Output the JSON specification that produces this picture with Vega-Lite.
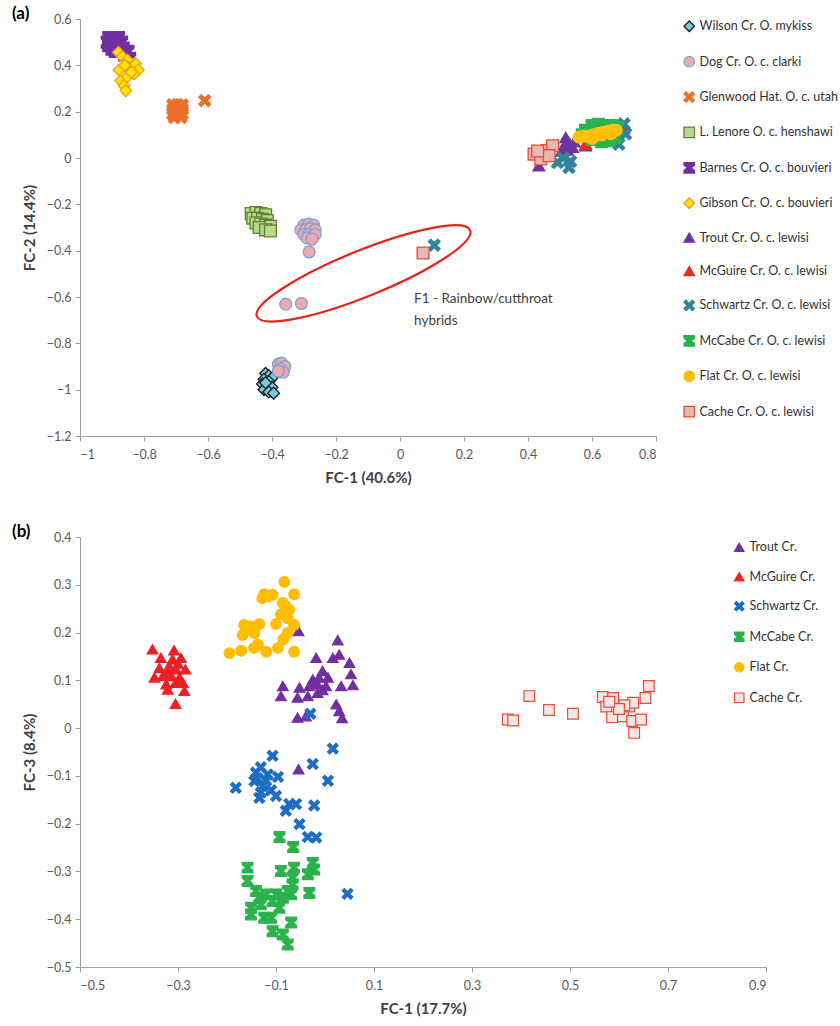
{
"$schema":"https://vega.github.io/schema/vega-lite/v6.json",
"background":"white",
"padding":{"left":12,"top":5,"right":0,"bottom":0},
"config":{"view":{"stroke":null},
"axis":{"grid":false,"domainColor":"#a0a0a0","tickColor":"#a0a0a0","tickSize":5,"labelFont":"Lato","labelFontSize":12.5,"labelColor":"#595959","titleFont":"Lato","titleFontSize":15,"titleFontWeight":"bold","titleColor":"#404040"},
"legend":{"labelFont":"Lato","labelColor":"#333333","labelLimit":220}},
"datasets":{
"a":[
{"site":"Wilson Cr. O. mykiss","fc1":-0.42,"fc2":-0.93},{"site":"Wilson Cr. O. mykiss","fc1":-0.41,"fc2":-0.94},{"site":"Wilson Cr. O. mykiss","fc1":-0.4,"fc2":-0.95},{"site":"Wilson Cr. O. mykiss","fc1":-0.425,"fc2":-0.955},{"site":"Wilson Cr. O. mykiss","fc1":-0.41,"fc2":-0.965},{"site":"Wilson Cr. O. mykiss","fc1":-0.43,"fc2":-0.975},{"site":"Wilson Cr. O. mykiss","fc1":-0.415,"fc2":-0.985},{"site":"Wilson Cr. O. mykiss","fc1":-0.4,"fc2":-0.99},{"site":"Wilson Cr. O. mykiss","fc1":-0.425,"fc2":-1.0},{"site":"Wilson Cr. O. mykiss","fc1":-0.41,"fc2":-1.01},{"site":"Wilson Cr. O. mykiss","fc1":-0.395,"fc2":-1.015},{"site":"Wilson Cr. O. mykiss","fc1":-0.42,"fc2":-0.97},
{"site":"Dog Cr. O. c. clarki","fc1":-0.3,"fc2":-0.29},{"site":"Dog Cr. O. c. clarki","fc1":-0.285,"fc2":-0.285},{"site":"Dog Cr. O. c. clarki","fc1":-0.27,"fc2":-0.29},{"site":"Dog Cr. O. c. clarki","fc1":-0.31,"fc2":-0.31},{"site":"Dog Cr. O. c. clarki","fc1":-0.295,"fc2":-0.31},{"site":"Dog Cr. O. c. clarki","fc1":-0.28,"fc2":-0.305},{"site":"Dog Cr. O. c. clarki","fc1":-0.265,"fc2":-0.31},{"site":"Dog Cr. O. c. clarki","fc1":-0.3,"fc2":-0.33},{"site":"Dog Cr. O. c. clarki","fc1":-0.285,"fc2":-0.33},{"site":"Dog Cr. O. c. clarki","fc1":-0.265,"fc2":-0.33},{"site":"Dog Cr. O. c. clarki","fc1":-0.29,"fc2":-0.345},{"site":"Dog Cr. O. c. clarki","fc1":-0.275,"fc2":-0.35},{"site":"Dog Cr. O. c. clarki","fc1":-0.284,"fc2":-0.405},{"site":"Dog Cr. O. c. clarki","fc1":-0.357,"fc2":-0.631},{"site":"Dog Cr. O. c. clarki","fc1":-0.308,"fc2":-0.628},{"site":"Dog Cr. O. c. clarki","fc1":-0.38,"fc2":-0.89},{"site":"Dog Cr. O. c. clarki","fc1":-0.37,"fc2":-0.885},{"site":"Dog Cr. O. c. clarki","fc1":-0.36,"fc2":-0.9},{"site":"Dog Cr. O. c. clarki","fc1":-0.375,"fc2":-0.91},{"site":"Dog Cr. O. c. clarki","fc1":-0.365,"fc2":-0.925},{"site":"Dog Cr. O. c. clarki","fc1":-0.38,"fc2":-0.92},
{"site":"Glenwood Hat. O. c. utah","fc1":-0.71,"fc2":0.23},{"site":"Glenwood Hat. O. c. utah","fc1":-0.695,"fc2":0.23},{"site":"Glenwood Hat. O. c. utah","fc1":-0.68,"fc2":0.23},{"site":"Glenwood Hat. O. c. utah","fc1":-0.71,"fc2":0.21},{"site":"Glenwood Hat. O. c. utah","fc1":-0.695,"fc2":0.21},{"site":"Glenwood Hat. O. c. utah","fc1":-0.68,"fc2":0.21},{"site":"Glenwood Hat. O. c. utah","fc1":-0.71,"fc2":0.19},{"site":"Glenwood Hat. O. c. utah","fc1":-0.695,"fc2":0.19},{"site":"Glenwood Hat. O. c. utah","fc1":-0.68,"fc2":0.19},{"site":"Glenwood Hat. O. c. utah","fc1":-0.705,"fc2":0.175},{"site":"Glenwood Hat. O. c. utah","fc1":-0.685,"fc2":0.175},{"site":"Glenwood Hat. O. c. utah","fc1":-0.7,"fc2":0.2},{"site":"Glenwood Hat. O. c. utah","fc1":-0.61,"fc2":0.248},
{"site":"L. Lenore O. c. henshawi","fc1":-0.465,"fc2":-0.24},{"site":"L. Lenore O. c. henshawi","fc1":-0.45,"fc2":-0.235},{"site":"L. Lenore O. c. henshawi","fc1":-0.435,"fc2":-0.24},{"site":"L. Lenore O. c. henshawi","fc1":-0.42,"fc2":-0.245},{"site":"L. Lenore O. c. henshawi","fc1":-0.46,"fc2":-0.26},{"site":"L. Lenore O. c. henshawi","fc1":-0.445,"fc2":-0.26},{"site":"L. Lenore O. c. henshawi","fc1":-0.43,"fc2":-0.265},{"site":"L. Lenore O. c. henshawi","fc1":-0.415,"fc2":-0.27},{"site":"L. Lenore O. c. henshawi","fc1":-0.45,"fc2":-0.28},{"site":"L. Lenore O. c. henshawi","fc1":-0.435,"fc2":-0.285},{"site":"L. Lenore O. c. henshawi","fc1":-0.42,"fc2":-0.29},{"site":"L. Lenore O. c. henshawi","fc1":-0.405,"fc2":-0.295},{"site":"L. Lenore O. c. henshawi","fc1":-0.44,"fc2":-0.3},{"site":"L. Lenore O. c. henshawi","fc1":-0.42,"fc2":-0.31},{"site":"L. Lenore O. c. henshawi","fc1":-0.405,"fc2":-0.315},
{"site":"Barnes Cr. O. c. bouvieri","fc1":-0.91,"fc2":0.52},{"site":"Barnes Cr. O. c. bouvieri","fc1":-0.9,"fc2":0.52},{"site":"Barnes Cr. O. c. bouvieri","fc1":-0.89,"fc2":0.515},{"site":"Barnes Cr. O. c. bouvieri","fc1":-0.88,"fc2":0.52},{"site":"Barnes Cr. O. c. bouvieri","fc1":-0.915,"fc2":0.5},{"site":"Barnes Cr. O. c. bouvieri","fc1":-0.9,"fc2":0.5},{"site":"Barnes Cr. O. c. bouvieri","fc1":-0.885,"fc2":0.505},{"site":"Barnes Cr. O. c. bouvieri","fc1":-0.87,"fc2":0.5},{"site":"Barnes Cr. O. c. bouvieri","fc1":-0.91,"fc2":0.485},{"site":"Barnes Cr. O. c. bouvieri","fc1":-0.895,"fc2":0.48},{"site":"Barnes Cr. O. c. bouvieri","fc1":-0.88,"fc2":0.485},{"site":"Barnes Cr. O. c. bouvieri","fc1":-0.865,"fc2":0.475},{"site":"Barnes Cr. O. c. bouvieri","fc1":-0.85,"fc2":0.46},{"site":"Barnes Cr. O. c. bouvieri","fc1":-0.86,"fc2":0.445},{"site":"Barnes Cr. O. c. bouvieri","fc1":-0.9,"fc2":0.47},{"site":"Barnes Cr. O. c. bouvieri","fc1":-0.875,"fc2":0.465},{"site":"Barnes Cr. O. c. bouvieri","fc1":-0.89,"fc2":0.46},{"site":"Barnes Cr. O. c. bouvieri","fc1":-0.845,"fc2":0.43},
{"site":"Gibson Cr. O. c. bouvieri","fc1":-0.88,"fc2":0.456},{"site":"Gibson Cr. O. c. bouvieri","fc1":-0.868,"fc2":0.438},{"site":"Gibson Cr. O. c. bouvieri","fc1":-0.852,"fc2":0.423},{"site":"Gibson Cr. O. c. bouvieri","fc1":-0.878,"fc2":0.38},{"site":"Gibson Cr. O. c. bouvieri","fc1":-0.849,"fc2":0.391},{"site":"Gibson Cr. O. c. bouvieri","fc1":-0.826,"fc2":0.406},{"site":"Gibson Cr. O. c. bouvieri","fc1":-0.818,"fc2":0.38},{"site":"Gibson Cr. O. c. bouvieri","fc1":-0.873,"fc2":0.334},{"site":"Gibson Cr. O. c. bouvieri","fc1":-0.852,"fc2":0.351},{"site":"Gibson Cr. O. c. bouvieri","fc1":-0.831,"fc2":0.363},{"site":"Gibson Cr. O. c. bouvieri","fc1":-0.862,"fc2":0.312},{"site":"Gibson Cr. O. c. bouvieri","fc1":-0.857,"fc2":0.291},{"site":"Gibson Cr. O. c. bouvieri","fc1":-0.84,"fc2":0.37},{"site":"Gibson Cr. O. c. bouvieri","fc1":-0.86,"fc2":0.4},
{"site":"Trout Cr. O. c. lewisi","fc1":0.518,"fc2":0.089},{"site":"Trout Cr. O. c. lewisi","fc1":0.528,"fc2":0.067},{"site":"Trout Cr. O. c. lewisi","fc1":0.513,"fc2":0.053},{"site":"Trout Cr. O. c. lewisi","fc1":0.539,"fc2":0.046},{"site":"Trout Cr. O. c. lewisi","fc1":0.523,"fc2":0.035},{"site":"Trout Cr. O. c. lewisi","fc1":0.434,"fc2":-0.033},{"site":"Trout Cr. O. c. lewisi","fc1":0.58,"fc2":0.053},{"site":"Trout Cr. O. c. lewisi","fc1":0.545,"fc2":0.07},{"site":"Trout Cr. O. c. lewisi","fc1":0.505,"fc2":0.03},
{"site":"McGuire Cr. O. c. lewisi","fc1":0.62,"fc2":0.12},{"site":"McGuire Cr. O. c. lewisi","fc1":0.66,"fc2":0.1},{"site":"McGuire Cr. O. c. lewisi","fc1":0.7,"fc2":0.13},{"site":"McGuire Cr. O. c. lewisi","fc1":0.58,"fc2":0.06},
{"site":"Schwartz Cr. O. c. lewisi","fc1":0.492,"fc2":-0.019},{"site":"Schwartz Cr. O. c. lewisi","fc1":0.533,"fc2":-0.015},{"site":"Schwartz Cr. O. c. lewisi","fc1":0.528,"fc2":-0.041},{"site":"Schwartz Cr. O. c. lewisi","fc1":0.7,"fc2":0.147},{"site":"Schwartz Cr. O. c. lewisi","fc1":0.705,"fc2":0.104},{"site":"Schwartz Cr. O. c. lewisi","fc1":0.684,"fc2":0.06},{"site":"Schwartz Cr. O. c. lewisi","fc1":0.107,"fc2":-0.376},{"site":"Schwartz Cr. O. c. lewisi","fc1":0.51,"fc2":0.0},
{"site":"McCabe Cr. O. c. lewisi","fc1":0.58,"fc2":0.12},{"site":"McCabe Cr. O. c. lewisi","fc1":0.6,"fc2":0.14},{"site":"McCabe Cr. O. c. lewisi","fc1":0.62,"fc2":0.145},{"site":"McCabe Cr. O. c. lewisi","fc1":0.64,"fc2":0.14},{"site":"McCabe Cr. O. c. lewisi","fc1":0.66,"fc2":0.14},{"site":"McCabe Cr. O. c. lewisi","fc1":0.68,"fc2":0.13},{"site":"McCabe Cr. O. c. lewisi","fc1":0.6,"fc2":0.08},{"site":"McCabe Cr. O. c. lewisi","fc1":0.63,"fc2":0.07},{"site":"McCabe Cr. O. c. lewisi","fc1":0.655,"fc2":0.075},{"site":"McCabe Cr. O. c. lewisi","fc1":0.675,"fc2":0.09},{"site":"McCabe Cr. O. c. lewisi","fc1":0.57,"fc2":0.1},{"site":"McCabe Cr. O. c. lewisi","fc1":0.62,"fc2":0.11},{"site":"McCabe Cr. O. c. lewisi","fc1":0.65,"fc2":0.11},
{"site":"Flat Cr. O. c. lewisi","fc1":0.56,"fc2":0.09},{"site":"Flat Cr. O. c. lewisi","fc1":0.575,"fc2":0.095},{"site":"Flat Cr. O. c. lewisi","fc1":0.59,"fc2":0.095},{"site":"Flat Cr. O. c. lewisi","fc1":0.605,"fc2":0.1},{"site":"Flat Cr. O. c. lewisi","fc1":0.62,"fc2":0.105},{"site":"Flat Cr. O. c. lewisi","fc1":0.635,"fc2":0.11},{"site":"Flat Cr. O. c. lewisi","fc1":0.65,"fc2":0.115},{"site":"Flat Cr. O. c. lewisi","fc1":0.665,"fc2":0.12},{"site":"Flat Cr. O. c. lewisi","fc1":0.675,"fc2":0.12},{"site":"Flat Cr. O. c. lewisi","fc1":0.6,"fc2":0.085},{"site":"Flat Cr. O. c. lewisi","fc1":0.63,"fc2":0.1},{"site":"Flat Cr. O. c. lewisi","fc1":0.66,"fc2":0.105},
{"site":"Cache Cr. O. c. lewisi","fc1":0.419,"fc2":0.017},{"site":"Cache Cr. O. c. lewisi","fc1":0.44,"fc2":0.017},{"site":"Cache Cr. O. c. lewisi","fc1":0.46,"fc2":0.032},{"site":"Cache Cr. O. c. lewisi","fc1":0.477,"fc2":0.053},{"site":"Cache Cr. O. c. lewisi","fc1":0.44,"fc2":-0.004},{"site":"Cache Cr. O. c. lewisi","fc1":0.466,"fc2":0.01},{"site":"Cache Cr. O. c. lewisi","fc1":0.43,"fc2":0.03},{"site":"Cache Cr. O. c. lewisi","fc1":0.072,"fc2":-0.41}
],
"b":[
{"site":"Trout Cr.","fc1":-0.054,"fc3":0.203},{"site":"Trout Cr.","fc1":0.026,"fc3":0.184},{"site":"Trout Cr.","fc1":-0.018,"fc3":0.147},{"site":"Trout Cr.","fc1":0.016,"fc3":0.147},{"site":"Trout Cr.","fc1":0.029,"fc3":0.154},{"site":"Trout Cr.","fc1":0.05,"fc3":0.137},{"site":"Trout Cr.","fc1":-0.005,"fc3":0.12},{"site":"Trout Cr.","fc1":-0.025,"fc3":0.102},{"site":"Trout Cr.","fc1":-0.012,"fc3":0.106},{"site":"Trout Cr.","fc1":0.006,"fc3":0.106},{"site":"Trout Cr.","fc1":0.053,"fc3":0.113},{"site":"Trout Cr.","fc1":-0.086,"fc3":0.088},{"site":"Trout Cr.","fc1":-0.052,"fc3":0.085},{"site":"Trout Cr.","fc1":-0.032,"fc3":0.088},{"site":"Trout Cr.","fc1":-0.015,"fc3":0.092},{"site":"Trout Cr.","fc1":0.002,"fc3":0.088},{"site":"Trout Cr.","fc1":0.033,"fc3":0.088},{"site":"Trout Cr.","fc1":0.057,"fc3":0.09},{"site":"Trout Cr.","fc1":-0.09,"fc3":0.067},{"site":"Trout Cr.","fc1":-0.056,"fc3":0.064},{"site":"Trout Cr.","fc1":-0.035,"fc3":0.067},{"site":"Trout Cr.","fc1":-0.015,"fc3":0.074},{"site":"Trout Cr.","fc1":0.023,"fc3":0.05},{"site":"Trout Cr.","fc1":0.029,"fc3":0.036},{"site":"Trout Cr.","fc1":-0.056,"fc3":0.022},{"site":"Trout Cr.","fc1":-0.039,"fc3":0.025},{"site":"Trout Cr.","fc1":0.035,"fc3":0.021},{"site":"Trout Cr.","fc1":-0.054,"fc3":-0.086},{"site":"Trout Cr.","fc1":-0.02,"fc3":0.095},{"site":"Trout Cr.","fc1":-0.005,"fc3":0.08},
{"site":"McGuire Cr.","fc1":-0.352,"fc3":0.165},{"site":"McGuire Cr.","fc1":-0.308,"fc3":0.163},{"site":"McGuire Cr.","fc1":-0.335,"fc3":0.147},{"site":"McGuire Cr.","fc1":-0.311,"fc3":0.144},{"site":"McGuire Cr.","fc1":-0.294,"fc3":0.147},{"site":"McGuire Cr.","fc1":-0.338,"fc3":0.126},{"site":"McGuire Cr.","fc1":-0.318,"fc3":0.13},{"site":"McGuire Cr.","fc1":-0.304,"fc3":0.123},{"site":"McGuire Cr.","fc1":-0.285,"fc3":0.123},{"site":"McGuire Cr.","fc1":-0.348,"fc3":0.106},{"site":"McGuire Cr.","fc1":-0.331,"fc3":0.109},{"site":"McGuire Cr.","fc1":-0.314,"fc3":0.109},{"site":"McGuire Cr.","fc1":-0.297,"fc3":0.106},{"site":"McGuire Cr.","fc1":-0.324,"fc3":0.092},{"site":"McGuire Cr.","fc1":-0.305,"fc3":0.095},{"site":"McGuire Cr.","fc1":-0.29,"fc3":0.095},{"site":"McGuire Cr.","fc1":-0.321,"fc3":0.081},{"site":"McGuire Cr.","fc1":-0.287,"fc3":0.078},{"site":"McGuire Cr.","fc1":-0.305,"fc3":0.051},{"site":"McGuire Cr.","fc1":-0.32,"fc3":0.118},{"site":"McGuire Cr.","fc1":-0.3,"fc3":0.135},
{"site":"Schwartz Cr.","fc1":-0.03,"fc3":0.03},{"site":"Schwartz Cr.","fc1":0.016,"fc3":-0.043},{"site":"Schwartz Cr.","fc1":-0.025,"fc3":-0.075},{"site":"Schwartz Cr.","fc1":0.006,"fc3":-0.11},{"site":"Schwartz Cr.","fc1":-0.107,"fc3":-0.058},{"site":"Schwartz Cr.","fc1":-0.131,"fc3":-0.082},{"site":"Schwartz Cr.","fc1":-0.096,"fc3":-0.102},{"site":"Schwartz Cr.","fc1":-0.182,"fc3":-0.125},{"site":"Schwartz Cr.","fc1":-0.144,"fc3":-0.111},{"site":"Schwartz Cr.","fc1":-0.131,"fc3":-0.135},{"site":"Schwartz Cr.","fc1":-0.1,"fc3":-0.142},{"site":"Schwartz Cr.","fc1":-0.073,"fc3":-0.159},{"site":"Schwartz Cr.","fc1":-0.08,"fc3":-0.173},{"site":"Schwartz Cr.","fc1":-0.022,"fc3":-0.162},{"site":"Schwartz Cr.","fc1":-0.052,"fc3":-0.201},{"site":"Schwartz Cr.","fc1":-0.035,"fc3":-0.228},{"site":"Schwartz Cr.","fc1":-0.018,"fc3":-0.229},{"site":"Schwartz Cr.","fc1":0.046,"fc3":-0.347},{"site":"Schwartz Cr.","fc1":-0.117,"fc3":-0.097},{"site":"Schwartz Cr.","fc1":-0.141,"fc3":-0.093},{"site":"Schwartz Cr.","fc1":-0.127,"fc3":-0.121},{"site":"Schwartz Cr.","fc1":-0.059,"fc3":-0.159},{"site":"Schwartz Cr.","fc1":-0.134,"fc3":-0.146},{"site":"Schwartz Cr.","fc1":-0.12,"fc3":-0.11},{"site":"Schwartz Cr.","fc1":-0.11,"fc3":-0.13},{"site":"Schwartz Cr.","fc1":-0.138,"fc3":-0.105},
{"site":"McCabe Cr.","fc1":-0.093,"fc3":-0.228},{"site":"McCabe Cr.","fc1":-0.065,"fc3":-0.249},{"site":"McCabe Cr.","fc1":-0.158,"fc3":-0.292},{"site":"McCabe Cr.","fc1":-0.09,"fc3":-0.299},{"site":"McCabe Cr.","fc1":-0.063,"fc3":-0.292},{"site":"McCabe Cr.","fc1":-0.025,"fc3":-0.282},{"site":"McCabe Cr.","fc1":-0.022,"fc3":-0.296},{"site":"McCabe Cr.","fc1":-0.158,"fc3":-0.32},{"site":"McCabe Cr.","fc1":-0.066,"fc3":-0.313},{"site":"McCabe Cr.","fc1":-0.035,"fc3":-0.306},{"site":"McCabe Cr.","fc1":-0.032,"fc3":-0.345},{"site":"McCabe Cr.","fc1":-0.141,"fc3":-0.341},{"site":"McCabe Cr.","fc1":-0.12,"fc3":-0.348},{"site":"McCabe Cr.","fc1":-0.1,"fc3":-0.348},{"site":"McCabe Cr.","fc1":-0.076,"fc3":-0.341},{"site":"McCabe Cr.","fc1":-0.151,"fc3":-0.376},{"site":"McCabe Cr.","fc1":-0.131,"fc3":-0.369},{"site":"McCabe Cr.","fc1":-0.107,"fc3":-0.362},{"site":"McCabe Cr.","fc1":-0.086,"fc3":-0.355},{"site":"McCabe Cr.","fc1":-0.069,"fc3":-0.348},{"site":"McCabe Cr.","fc1":-0.151,"fc3":-0.39},{"site":"McCabe Cr.","fc1":-0.124,"fc3":-0.397},{"site":"McCabe Cr.","fc1":-0.11,"fc3":-0.397},{"site":"McCabe Cr.","fc1":-0.069,"fc3":-0.407},{"site":"McCabe Cr.","fc1":-0.107,"fc3":-0.425},{"site":"McCabe Cr.","fc1":-0.086,"fc3":-0.432},{"site":"McCabe Cr.","fc1":-0.076,"fc3":-0.453},{"site":"McCabe Cr.","fc1":-0.066,"fc3":-0.327},{"site":"McCabe Cr.","fc1":-0.134,"fc3":-0.355},{"site":"McCabe Cr.","fc1":-0.093,"fc3":-0.376},
{"site":"Flat Cr.","fc1":-0.083,"fc3":0.306},{"site":"Flat Cr.","fc1":-0.124,"fc3":0.28},{"site":"Flat Cr.","fc1":-0.115,"fc3":0.276},{"site":"Flat Cr.","fc1":-0.107,"fc3":0.279},{"site":"Flat Cr.","fc1":-0.063,"fc3":0.28},{"site":"Flat Cr.","fc1":-0.086,"fc3":0.262},{"site":"Flat Cr.","fc1":-0.073,"fc3":0.248},{"site":"Flat Cr.","fc1":-0.076,"fc3":0.23},{"site":"Flat Cr.","fc1":-0.08,"fc3":0.255},{"site":"Flat Cr.","fc1":-0.165,"fc3":0.216},{"site":"Flat Cr.","fc1":-0.151,"fc3":0.213},{"site":"Flat Cr.","fc1":-0.134,"fc3":0.218},{"site":"Flat Cr.","fc1":-0.155,"fc3":0.207},{"site":"Flat Cr.","fc1":-0.1,"fc3":0.218},{"site":"Flat Cr.","fc1":-0.063,"fc3":0.216},{"site":"Flat Cr.","fc1":-0.168,"fc3":0.195},{"site":"Flat Cr.","fc1":-0.144,"fc3":0.199},{"site":"Flat Cr.","fc1":-0.076,"fc3":0.199},{"site":"Flat Cr.","fc1":-0.195,"fc3":0.157},{"site":"Flat Cr.","fc1":-0.171,"fc3":0.162},{"site":"Flat Cr.","fc1":-0.137,"fc3":0.175},{"site":"Flat Cr.","fc1":-0.12,"fc3":0.16},{"site":"Flat Cr.","fc1":-0.096,"fc3":0.168},{"site":"Flat Cr.","fc1":-0.063,"fc3":0.16},{"site":"Flat Cr.","fc1":-0.085,"fc3":0.186},{"site":"Flat Cr.","fc1":-0.145,"fc3":0.168},{"site":"Flat Cr.","fc1":-0.128,"fc3":0.272},{"site":"Flat Cr.","fc1":-0.09,"fc3":0.238},
{"site":"Cache Cr.","fc1":0.373,"fc3":0.018},{"site":"Cache Cr.","fc1":0.384,"fc3":0.016},{"site":"Cache Cr.","fc1":0.417,"fc3":0.067},{"site":"Cache Cr.","fc1":0.457,"fc3":0.038},{"site":"Cache Cr.","fc1":0.506,"fc3":0.03},{"site":"Cache Cr.","fc1":0.567,"fc3":0.065},{"site":"Cache Cr.","fc1":0.588,"fc3":0.063},{"site":"Cache Cr.","fc1":0.574,"fc3":0.045},{"site":"Cache Cr.","fc1":0.586,"fc3":0.023},{"site":"Cache Cr.","fc1":0.608,"fc3":0.025},{"site":"Cache Cr.","fc1":0.621,"fc3":0.045},{"site":"Cache Cr.","fc1":0.629,"fc3":0.053},{"site":"Cache Cr.","fc1":0.654,"fc3":0.063},{"site":"Cache Cr.","fc1":0.661,"fc3":0.088},{"site":"Cache Cr.","fc1":0.627,"fc3":0.015},{"site":"Cache Cr.","fc1":0.645,"fc3":0.018},{"site":"Cache Cr.","fc1":0.631,"fc3":-0.01},{"site":"Cache Cr.","fc1":0.611,"fc3":0.048},{"site":"Cache Cr.","fc1":0.6,"fc3":0.04},{"site":"Cache Cr.","fc1":0.58,"fc3":0.055}
]},
"resolve":{"scale":{"x":"independent","y":"independent","shape":"independent","fill":"independent","stroke":"independent"},"legend":{"shape":"independent","fill":"independent","stroke":"independent"}},
"spacing":37,
"vconcat":[
{"width":576,"height":417,
"title":{"text":"(a)","anchor":"start","frame":"group","dx":-68,"dy":14,"fontSize":17,"fontWeight":"bold","color":"#000000","font":"Lato"},
"layer":[
{"data":{"name":"a"},
"mark":{"type":"point","filled":true,"size":140,"strokeWidth":1.3,"opacity":1},
"encoding":{
"x":{"field":"fc1","type":"quantitative","scale":{"domain":[-1,0.8],"nice":false,"zero":false},"axis":{"title":"FC-1 (40.6%)","values":[-1,-0.8,-0.6,-0.4,-0.2,0,0.2,0.4,0.6,0.8],"format":"~g","labelPadding":7,"titlePadding":10}},
"y":{"field":"fc2","type":"quantitative","scale":{"domain":[-1.2,0.6],"nice":false,"zero":false},"axis":{"title":"FC-2 (14.4%)","values":[-1.2,-1,-0.8,-0.6,-0.4,-0.2,0,0.2,0.4,0.6],"format":"~g","labelPadding":4,"titlePadding":9}},
"shape":{"field":"site","type":"nominal","scale":{"domain":["Wilson Cr. O. mykiss","Dog Cr. O. c. clarki","Glenwood Hat. O. c. utah","L. Lenore O. c. henshawi","Barnes Cr. O. c. bouvieri","Gibson Cr. O. c. bouvieri","Trout Cr. O. c. lewisi","McGuire Cr. O. c. lewisi","Schwartz Cr. O. c. lewisi","McCabe Cr. O. c. lewisi","Flat Cr. O. c. lewisi","Cache Cr. O. c. lewisi"],"range":["diamond","circle","M-1,-0.6L-0.6,-1L0,-0.4L0.6,-1L1,-0.6L0.4,0L1,0.6L0.6,1L0,0.4L-0.6,1L-1,0.6L-0.4,0Z","square","M-1,-1L1,-1L1,-0.5L0.35,0L1,0.5L1,1L-1,1L-1,0.5L-0.35,0L-1,-0.5Z","diamond","triangle-up","triangle-up","M-1,-0.6L-0.6,-1L0,-0.4L0.6,-1L1,-0.6L0.4,0L1,0.6L0.6,1L0,0.4L-0.6,1L-1,0.6L-0.4,0Z","M-1,-1L1,-1L1,-0.5L0.35,0L1,0.5L1,1L-1,1L-1,0.5L-0.35,0L-1,-0.5Z","circle","square"]},
"legend":{"title":null,"orient":"none","legendX":603,"legendY":1,"symbolSize":110,"labelFontSize":12.5,"rowPadding":18.4,"symbolStrokeWidth":1.3}},
"fill":{"field":"site","type":"nominal","scale":{"domain":["Wilson Cr. O. mykiss","Dog Cr. O. c. clarki","Glenwood Hat. O. c. utah","L. Lenore O. c. henshawi","Barnes Cr. O. c. bouvieri","Gibson Cr. O. c. bouvieri","Trout Cr. O. c. lewisi","McGuire Cr. O. c. lewisi","Schwartz Cr. O. c. lewisi","McCabe Cr. O. c. lewisi","Flat Cr. O. c. lewisi","Cache Cr. O. c. lewisi"],"range":["#79c9dd","#f0a8ae","#ed6f2b","#b8d88b","#7030a0","#ffe600","#6e35a0","#ea2a1f","#31859c","#2bb24c","#ffbf00","#e6b9b8"]},
"legend":{"title":null,"orient":"none","legendX":603,"legendY":1,"symbolSize":110,"labelFontSize":12.5,"rowPadding":18.4,"symbolStrokeWidth":1.3}},
"stroke":{"field":"site","type":"nominal","scale":{"domain":["Wilson Cr. O. mykiss","Dog Cr. O. c. clarki","Glenwood Hat. O. c. utah","L. Lenore O. c. henshawi","Barnes Cr. O. c. bouvieri","Gibson Cr. O. c. bouvieri","Trout Cr. O. c. lewisi","McGuire Cr. O. c. lewisi","Schwartz Cr. O. c. lewisi","McCabe Cr. O. c. lewisi","Flat Cr. O. c. lewisi","Cache Cr. O. c. lewisi"],"range":["#1b1b1b","#7aa3dc","#ed6f2b","#5e8230","#7030a0","#f39a1e","#6e35a0","#ea2a1f","#31859c","#2bb24c","#ffc21a","#ea4a2f"]},
"legend":{"title":null,"orient":"none","legendX":603,"legendY":1,"symbolSize":110,"labelFontSize":12.5,"rowPadding":18.4,"symbolStrokeWidth":1.3}}
}},
{"data":{"values":[{}]},
"mark":{"type":"point","shape":"M1,0C1,0.1105,0.5523,0.2,0,0.2C-0.5523,0.2,-1,0.1105,-1,0C-1,-0.1105,-0.5523,-0.2,0,-0.2C0.5523,-0.2,1,-0.1105,1,0Z","size":52900,"filled":false,"stroke":"#e8241a","strokeWidth":2.2,"angle":-22,"opacity":1},
"encoding":{"x":{"datum":-0.114},"y":{"datum":-0.498}}},
{"data":{"values":[{}]},
"mark":{"type":"text","text":["F1 - Rainbow/cutthroat","hybrids"],"align":"left","baseline":"top","font":"Lato","fontSize":13.5,"lineHeight":22,"color":"#404040"},
"encoding":{"x":{"datum":0.044},"y":{"datum":-0.578}}}
]},
{"width":686,"height":430,
"title":{"text":"(b)","anchor":"start","frame":"group","dx":-68,"dy":14,"fontSize":17,"fontWeight":"bold","color":"#000000","font":"Lato"},
"data":{"name":"b"},
"mark":{"type":"point","filled":true,"size":115,"strokeWidth":1.2,"opacity":1},
"encoding":{
"x":{"field":"fc1","type":"quantitative","scale":{"domain":[-0.5,0.9],"nice":false,"zero":false},"axis":{"title":"FC-1 (17.7%)","values":[-0.5,-0.3,-0.1,0.1,0.3,0.5,0.7,0.9],"format":"~g","labelPadding":7,"titlePadding":10}},
"y":{"field":"fc3","type":"quantitative","scale":{"domain":[-0.5,0.4],"nice":false,"zero":false},"axis":{"title":"FC-3 (8.4%)","values":[-0.5,-0.4,-0.3,-0.2,-0.1,0,0.1,0.2,0.3,0.4],"format":"~g","labelPadding":4,"titlePadding":9}},
"shape":{"field":"site","type":"nominal","scale":{"domain":["Trout Cr.","McGuire Cr.","Schwartz Cr.","McCabe Cr.","Flat Cr.","Cache Cr."],"range":["triangle-up","triangle-up","M-1,-0.6L-0.6,-1L0,-0.4L0.6,-1L1,-0.6L0.4,0L1,0.6L0.6,1L0,0.4L-0.6,1L-1,0.6L-0.4,0Z","M-1,-1L1,-1L1,-0.5L0.35,0L1,0.5L1,1L-1,1L-1,0.5L-0.35,0L-1,-0.5Z","circle","square"]},
"legend":{"title":null,"orient":"none","legendX":653,"legendY":4,"symbolSize":90,"labelFontSize":12.5,"rowPadding":15.5,"symbolStrokeWidth":1.2}},
"fill":{"field":"site","type":"nominal","scale":{"domain":["Trout Cr.","McGuire Cr.","Schwartz Cr.","McCabe Cr.","Flat Cr.","Cache Cr."],"range":["#7030a0","#ed2024","#1f6cc4","#2bb24c","#ffbd00","#f1e6ea"]},
"legend":{"title":null,"orient":"none","legendX":653,"legendY":4,"symbolSize":90,"labelFontSize":12.5,"rowPadding":15.5,"symbolStrokeWidth":1.2}},
"stroke":{"field":"site","type":"nominal","scale":{"domain":["Trout Cr.","McGuire Cr.","Schwartz Cr.","McCabe Cr.","Flat Cr.","Cache Cr."],"range":["#7030a0","#ed2024","#1f6cc4","#2bb24c","#ffbd00","#ef4b30"]},
"legend":{"title":null,"orient":"none","legendX":653,"legendY":4,"symbolSize":90,"labelFontSize":12.5,"rowPadding":15.5,"symbolStrokeWidth":1.2}}
}}
]}
